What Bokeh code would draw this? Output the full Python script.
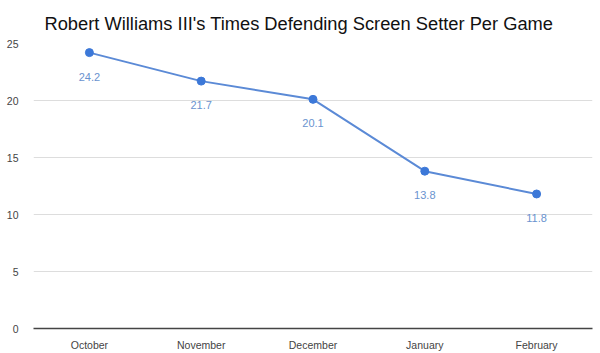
from bokeh.plotting import figure
from bokeh.models import ColumnDataSource, Range1d, FactorRange, SingleIntervalTicker
from bokeh.core.properties import value
from bokeh.embed import file_html
from bokeh.resources import INLINE

months = ["October", "November", "December", "January", "February"]
times = [24.2, 21.7, 20.1, 13.8, 11.8]
labels = ["24.2", "21.7", "20.1", "13.8", "11.8"]
title_text = "Robert Williams III's Times Defending Screen Setter Per Game"

src = ColumnDataSource(dict(m=months, v=times, t=labels))

p = figure(width=600, height=353, x_range=FactorRange(*months, range_padding=0),
           y_range=Range1d(0, 25), output_backend="svg", toolbar_location=None,
           min_border_left=33, min_border_right=8, min_border_top=4, min_border_bottom=25)
p.title.text = title_text
p.title.align = "left"
p.title.offset = 11
p.title.text_font = "Liberation Sans"
p.title.text_font_size = "18.3px"
p.title.text_font_style = "normal"
p.title.text_color = "#111111"
p.title.standoff = 20
p.outline_line_color = None
p.background_fill_color = "white"

p.line("m", "v", source=src, line_color="#5b8ad6", line_width=2)
p.scatter("m", "v", source=src, size=8, fill_color="#3c78d8", line_color="#3c78d8")
p.text("m", "v", text="t", source=src, y_offset=24, text_align="center", text_baseline="middle",
       text_font=value("Liberation Sans"), text_font_size="11px", text_color="#6a93cf")

p.yaxis.ticker = SingleIntervalTicker(interval=5)
p.yaxis.axis_line_color = None
p.yaxis.major_tick_line_color = None
p.yaxis.minor_tick_line_color = None
p.yaxis.major_label_text_font = "Liberation Sans"
p.yaxis.major_label_text_font_size = "10.5px"
p.yaxis.major_label_text_color = "#444444"
p.yaxis.major_label_standoff = 9

p.xaxis.axis_line_color = "#444444"
p.xaxis.axis_line_width = 1.5
p.xaxis.major_tick_line_color = None
p.xaxis.minor_tick_line_color = None
p.xaxis.major_label_text_font = "Liberation Sans"
p.xaxis.major_label_text_font_size = "10.5px"
p.xaxis.major_label_text_color = "#444444"
p.xaxis.major_label_standoff = 4

p.xgrid.grid_line_color = None
p.ygrid.grid_line_color = "#dddddd"

open("out.html", "w").write(file_html(p, INLINE))
